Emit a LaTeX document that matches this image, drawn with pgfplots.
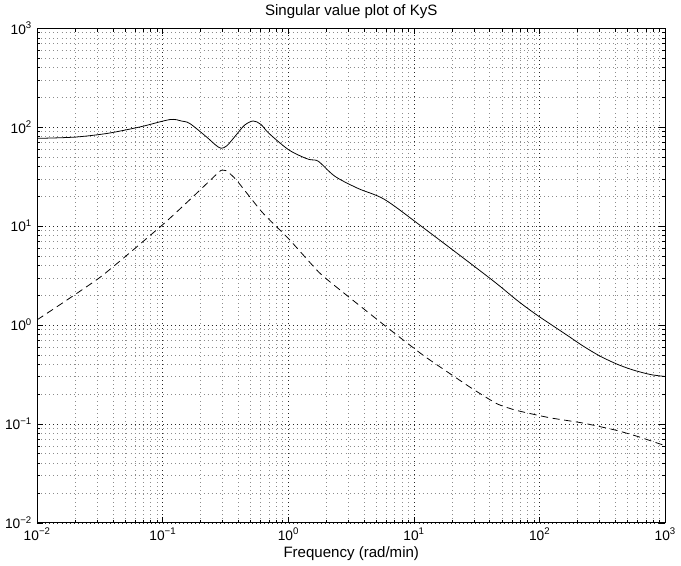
\documentclass[border=0pt]{standalone}
\usepackage{pgfplots}
\pgfplotsset{compat=1.18}
\usepackage{fontspec}
\setmainfont{Liberation Sans}
\begin{document}
\fontsize{11.5}{13}\selectfont
\begin{tikzpicture}
\begin{axis}[
  scale only axis,
  width=480pt, height=378pt,
  xmode=log, ymode=log,
  xmin=0.01, xmax=1000, ymin=0.01, ymax=1000,
  xtick={0.01,0.1,1,10,100,1000},
  ytick={0.01,0.1,1,10,100,1000},
  xticklabels={10\textsuperscript{−2},10\textsuperscript{−1},10\textsuperscript{0},10\textsuperscript{1},10\textsuperscript{2},10\textsuperscript{3}},
  yticklabels={10\textsuperscript{−2},10\textsuperscript{−1},10\textsuperscript{0},10\textsuperscript{1},10\textsuperscript{2},10\textsuperscript{3}},
  minor xtick={0.02,0.03,0.04,0.05,0.06,0.07,0.08,0.09,0.2,0.3,0.4,0.5,0.6,0.7,0.8,0.9,2,3,4,5,6,7,8,9,20,30,40,50,60,70,80,90,200,300,400,500,600,700,800,900},
  minor ytick={0.02,0.03,0.04,0.05,0.06,0.07,0.08,0.09,0.2,0.3,0.4,0.5,0.6,0.7,0.8,0.9,2,3,4,5,6,7,8,9,20,30,40,50,60,70,80,90,200,300,400,500,600,700,800,900},
  grid=both,
  major grid style={black!85, line width=0.5pt, dash pattern=on 0.5pt off 2.6pt},
  minor grid style={black!45, line width=0.5pt, dash pattern=on 0.5pt off 2.6pt},
  tick align=inside,
  major tick length=4.5pt,
  minor tick length=2.5pt,
  tick style={black, line width=0.5pt},
  axis line style={line width=0.8pt},
  xtick pos=both, ytick pos=both,
  title={Singular value plot of KyS},
  xlabel={Frequency (rad/min)},
  title style={yshift=-3pt},
  xlabel style={yshift=3pt},
  every tick label/.append style={font=\fontsize{10.5}{12}\selectfont},
]
\addplot[black, line width=0.6pt, smooth] coordinates {
(0.01,77.1) (0.01995,79.4) (0.03606,86.5) (0.0661,100.7)
(0.114,119.4) (0.141,115.3) (0.164,108.9) (0.222,80) (0.263,66.1) (0.291,61.2)
(0.324,65.0) (0.383,83.2) (0.447,104.7) (0.524,115.6) (0.603,106.7)
(0.700,86.5) (1.007,58.9) (1.365,48.6) (1.514,46.8) (1.738,45)
(2.35,31.8) (3.59,24) (5.82,18.6) (11.3,10.07) (40.4,2.95)
(65.6,1.79) (94.4,1.27) (162.6,0.80) (220,0.617) (298,0.490) (404,0.407)
(525,0.359) (655,0.331) (794,0.313) (1000,0.302)
};
\addplot[black, line width=0.6pt, dash pattern=on 5.5pt off 3.5pt, smooth, tension=0.3] coordinates {
(0.01,1.13) (0.032,3.07) (0.1009,10.47) (0.178,20.4) (0.268,33.5) (0.291,36.6) (0.320,36.3)
(0.383,29.5) (0.621,13.7) (1.007,7.41) (1.738,3.44) (2.49,2.34)
(6.19,0.933) (12.05,0.486) (28.1,0.234) (45.7,0.160) (65.6,0.137) (120,0.1156)
(220,0.1023) (404,0.0865) (617,0.0741) (885,0.0635) (1000,0.0603)
};
\end{axis}
\end{tikzpicture}
\end{document}
